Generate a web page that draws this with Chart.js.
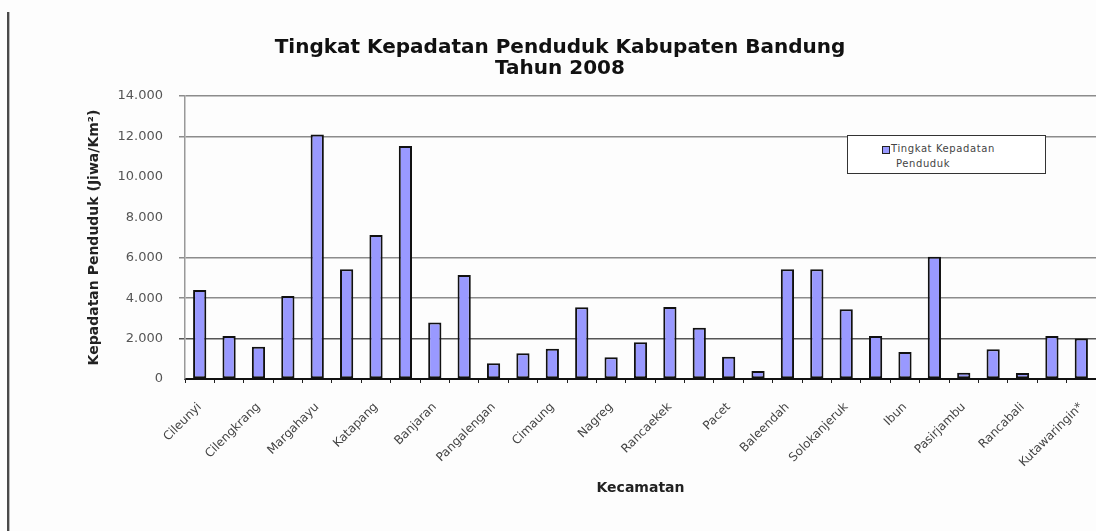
<!DOCTYPE html>
<html>
<head>
<meta charset="utf-8">
<script src="https://cdn.jsdelivr.net/npm/chart.js@4/dist/chart.umd.min.js"></script>
<style>
  html, body { margin: 0; padding: 0; background: #ffffff; }
  #wrap { position: relative; width: 1096px; height: 531px; overflow: hidden; background: #fdfdfd; }
  #chartBox { position: absolute; left: 0; top: 0; width: 1096px; height: 531px; }
  #edge { position: absolute; left: 7px; top: 12px; width: 2px; height: 519px; background: #4a4a4a; border-right: 1px solid #bbb; }
  #legend { position: absolute; left: 847px; top: 135px; width: 197px; height: 37px; background: #fff;
            border: 1px solid #333; font-family: "DejaVu Sans", sans-serif; font-size: 10px; color: #444; line-height: 15px; }
  #legend .sw { position: absolute; left: 34px; top: 10px; width: 6px; height: 6px; background: #9999ff; border: 1px solid #222; }
  #legend .t1 { position: absolute; left: 43px; top: 5px; letter-spacing: 0.6px; white-space: nowrap; }
  #legend .t2 { position: absolute; left: 48px; top: 20px; letter-spacing: 0.6px; white-space: nowrap; }
</style>
</head>
<body>
<div id="wrap">
  <div id="chartBox"><canvas id="c"></canvas></div>
  <div id="edge"></div>
  <div id="legend"><span class="sw"></span><span class="t1">Tingkat Kepadatan</span><span class="t2">Penduduk</span></div>
</div>
<script>
const titleLines = ['Tingkat Kepadatan Penduduk Kabupaten Bandung', 'Tahun 2008'];
const seriesName = 'Tingkat Kepadatan Penduduk';
const xTitle = 'Kecamatan';
const yTitle = 'Kepadatan Penduduk (Jiwa/Km²)';
const kecamatan = ['Cileunyi', 'Cimenyan', 'Cilengkrang', 'Bojongsoang', 'Margahayu', 'Margaasih',
  'Katapang', 'Dayeuhkolot', 'Banjaran', 'Pameungpeuk', 'Pangalengan', 'Arjasari', 'Cimaung',
  'Cicalengka', 'Nagreg', 'Cikancung', 'Rancaekek', 'Ciparay', 'Pacet', 'Kertasari', 'Baleendah',
  'Majalaya', 'Solokanjeruk', 'Paseh', 'Ibun', 'Soreang', 'Pasirjambu', 'Ciwidey', 'Rancabali',
  'Cangkuang', 'Kutawaringin*'];
const kepadatan = [4400, 2130, 1600, 4100, 12100, 5430, 7120, 11530, 2790, 5150, 780, 1270, 1500,
  3550, 1070, 1820, 3560, 2540, 1100, 400, 5430, 5430, 3450, 2130, 1340, 6050, 310, 1470, 300,
  2130, 2000];
const yTicks = [0, 2000, 4000, 6000, 8000, 10000, 12000, 14000];
const gridShown = [2000, 4000, 6000, 12000, 14000];

function fmt(v) { return String(v).replace(/\B(?=(\d{3})+(?!\d))/g, '.'); }

new Chart(document.getElementById('c'), {
  type: 'bar',
  data: {
    labels: kecamatan,
    datasets: [{
      label: seriesName,
      data: kepadatan,
      backgroundColor: '#9999ff',
      borderColor: '#111',
      borderWidth: 2,
      borderSkipped: false,
      categoryPercentage: 1,
      barPercentage: 0.45
    }]
  },
  options: {
    responsive: true,
    maintainAspectRatio: false,
    animation: false,
    layout: { padding: { left: 24, right: 0, top: 0, bottom: 0 } },
    plugins: {
      legend: { display: false },
      tooltip: { enabled: false },
      title: {
        display: true,
        text: titleLines,
        color: '#111',
        font: { family: 'DejaVu Sans', size: 20, weight: 'bold', lineHeight: 1.05 },
        padding: { top: 37, bottom: 17 }
      }
    },
    scales: {
      x: {
        offset: true,
        grid: { drawOnChartArea: false, drawTicks: true, tickLength: 4, color: '#222', offset: true },
        border: { color: '#111', width: 2 },
        ticks: {
          autoSkip: false,
          maxRotation: 45, minRotation: 45,
          padding: 17,
          color: '#444',
          font: { family: 'DejaVu Sans', size: 12 },
          callback: function (v, i) { return i % 2 === 0 ? kecamatan[i] : ''; }
        },
        title: {
          display: true, text: xTitle, color: '#222',
          font: { family: 'DejaVu Sans', size: 14, weight: 'bold' },
          padding: { top: 0, bottom: 34 }
        },
        afterFit: function (s) { s.height = 152; s.paddingLeft = 0; s.paddingRight = 0; }
      },
      y: {
        min: 0, max: 14000,
        afterBuildTicks: function (s) { s.ticks = yTicks.map(v => ({ value: v })); },
        grid: {
          drawTicks: true, tickLength: 6,
          color: function (ctx) {
            const v = ctx.tick ? ctx.tick.value : null;
            if (v === 2000) return '#555';
            return gridShown.includes(v) ? '#8c8c8c' : 'rgba(0,0,0,0)';
          },
          lineWidth: 1.5
        },
        border: { color: '#999', width: 1.5 },
        ticks: {
          padding: 16,
          color: '#555',
          font: { family: 'DejaVu Sans', size: 13 },
          callback: function (v) { return fmt(v); }
        },
        title: {
          display: true, text: yTitle, color: '#222',
          font: { family: 'DejaVu Sans', size: 14, weight: 'bold' },
          padding: { top: 62, bottom: 0 }
        },
        afterFit: function (s) { s.width = 161; s.paddingTop = 0; s.paddingBottom = 0; }
      }
    }
  }
});
</script>
</body>
</html>
